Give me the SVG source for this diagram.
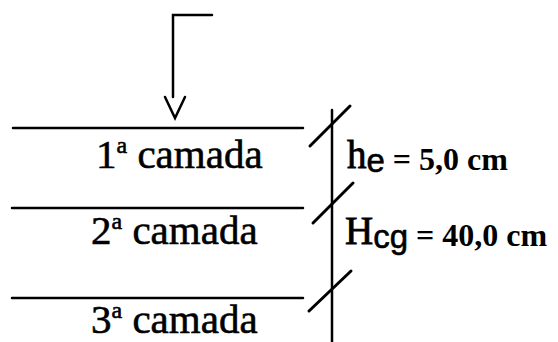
<svg xmlns="http://www.w3.org/2000/svg" width="558" height="342" viewBox="0 0 558 342">
<style>
.ln{stroke:#000;stroke-width:2.5;fill:none;stroke-linecap:round}
.sl{stroke:#000;stroke-width:3;fill:none;stroke-linecap:round}
.lbl{font-family:"Liberation Serif",serif;font-size:41px;fill:#000;stroke:#000;stroke-width:0.6}
.big{font-family:"Liberation Serif",serif;font-size:39px;fill:#000;stroke:#000;stroke-width:0.8}
.sub{font-family:"Liberation Sans",sans-serif;font-size:33px;fill:#000;stroke:#000;stroke-width:0.6}
.val{font-family:"Liberation Serif",serif;font-size:32px;font-weight:bold;fill:#000}
.sup{font-size:24px}
</style>
<g id="arrow">
<path class="ln" d="M212,15 H173 V97"/>
<path class="ln" d="M165,97 L175,118 L185,97"/>
</g>
<g id="connectors">
<line class="ln" x1="13" y1="128" x2="303" y2="128"/>
<line class="ln" x1="12" y1="208" x2="303" y2="208"/>
<line class="ln" x1="12" y1="298" x2="303" y2="298"/>
<line class="ln" x1="332" y1="110" x2="332" y2="342"/>
<line class="sl" x1="310" y1="146" x2="350" y2="106"/>
<line class="sl" x1="313" y1="223" x2="353" y2="183"/>
<line class="sl" x1="309" y1="311" x2="351" y2="271"/>
</g>
<g id="layer1"><text class="lbl" x="96" y="168">1<tspan class="sup" dy="-15">a</tspan><tspan dy="15"> camada</tspan></text></g>
<g id="layer2"><text class="lbl" x="91" y="244">2<tspan class="sup" dy="-15">a</tspan><tspan dy="15"> camada</tspan></text></g>
<g id="layer3"><text class="lbl" x="91" y="333">3<tspan class="sup" dy="-15">a</tspan><tspan dy="15"> camada</tspan></text></g>
<g id="he"><text x="347" y="168"><tspan class="big">h</tspan><tspan class="sub" dy="4">e</tspan><tspan class="val" dy="-2"> = 5,0 cm</tspan></text></g>
<g id="hcg"><text x="345" y="244"><tspan class="big">H</tspan><tspan class="sub" dy="4">cg</tspan><tspan class="val" dy="-2"> = 40,0 cm</tspan></text></g>
</svg>
